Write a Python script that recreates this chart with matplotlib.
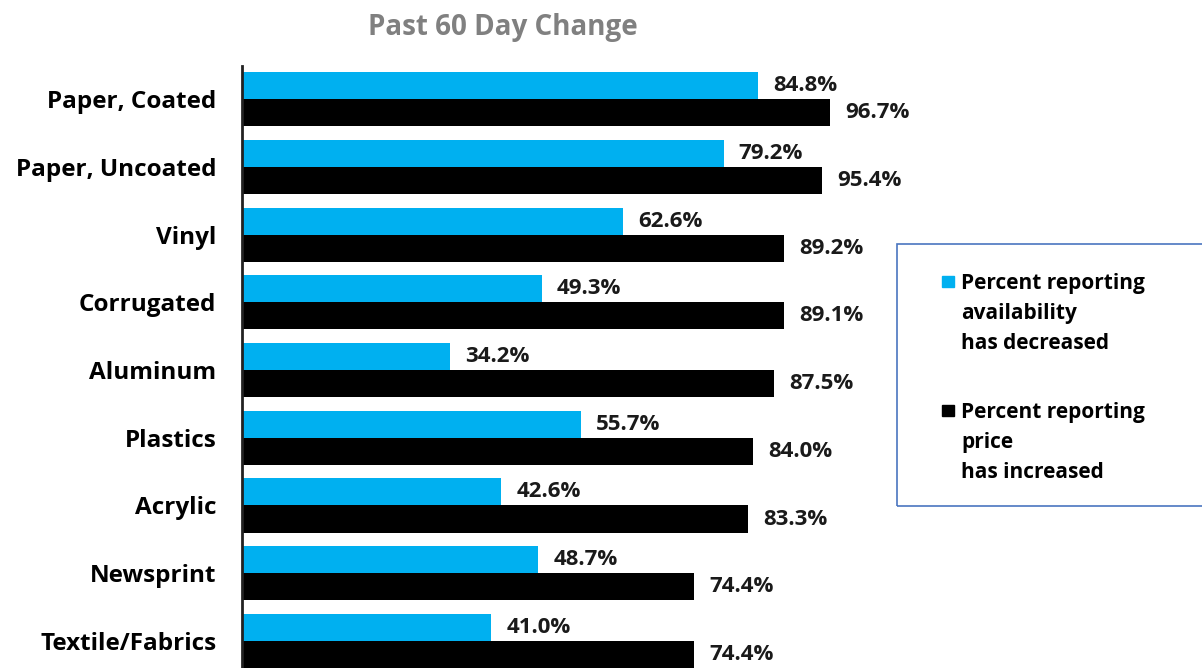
import matplotlib
matplotlib.use("Agg")
import matplotlib.pyplot as plt
from matplotlib.patches import Rectangle
import numpy as np

plt.rcParams['font.family'] = ['Open Sans', 'DejaVu Sans']

# data (top to bottom)
categories = ['Paper, Coated', 'Paper, Uncoated', 'Vinyl', 'Corrugated', 'Aluminum',
              'Plastics', 'Acrylic', 'Newsprint', 'Textile/Fabrics']
availability_decreased = [84.8, 79.2, 62.6, 49.3, 34.2, 55.7, 42.6, 48.7, 41.0]
price_increased = [96.7, 95.4, 89.2, 89.1, 87.5, 84.0, 83.3, 74.4, 74.4]
series_labels = ['Percent reporting\navailability\nhas decreased',
                 'Percent reporting\nprice\nhas increased']

BLUE = '#00B0F0'
BLACK = '#000000'

fig = plt.figure(figsize=(12.02, 6.68), dpi=100)
ax = fig.add_axes([242/1202, 0.0, 608/1202, 602/668])

y = np.arange(len(categories))
h = 0.4
b1 = ax.barh(y - h/2, availability_decreased, height=h, color=BLUE)
b2 = ax.barh(y + h/2, price_increased, height=h, color=BLACK)

for cont, vals in ((b1, availability_decreased), (b2, price_increased)):
    ax.bar_label(cont, labels=[f'{v:.1f}%' for v in vals], padding=11,
                 fontsize=16, fontweight='bold', color='#1a1a1a')

ax.set_xlim(0, 100)
ax.set_ylim(8.4, -0.49)
ax.set_yticks(y)
ax.set_yticklabels(categories, fontsize=17.5, fontweight='bold')
ax.tick_params(axis='y', length=0, pad=18.5)
ax.set_xticks([])
for s in ('top', 'right', 'bottom'):
    ax.spines[s].set_visible(False)
ax.spines['left'].set_linewidth(2)
ax.spines['left'].set_color('#222222')

fig.text(503/1202, 1 - 27/668, 'Past 60 Day Change', ha='center', va='center',
         fontsize=20, fontweight='bold', color='#808080')

# legend box, drawn by hand so the marker sits on the first line
fig.patches.append(Rectangle((897/1202, 1 - 506/668), 320/1202, 262/668,
                             transform=fig.transFigure, fill=False,
                             edgecolor='#4A76C0', linewidth=1.2))
for label, color, top in ((series_labels[0], BLUE, 273), (series_labels[1], BLACK, 402)):
    fig.patches.append(Rectangle((942/1202, 1 - (top + 14)/668), 12/1202, 11/668,
                                 transform=fig.transFigure, color=color))
    fig.text(961/1202, 1 - top/668, label, ha='left', va='top',
             fontsize=15, fontweight='bold', linespacing=1.55)

fig.savefig('out.png', dpi=100)
